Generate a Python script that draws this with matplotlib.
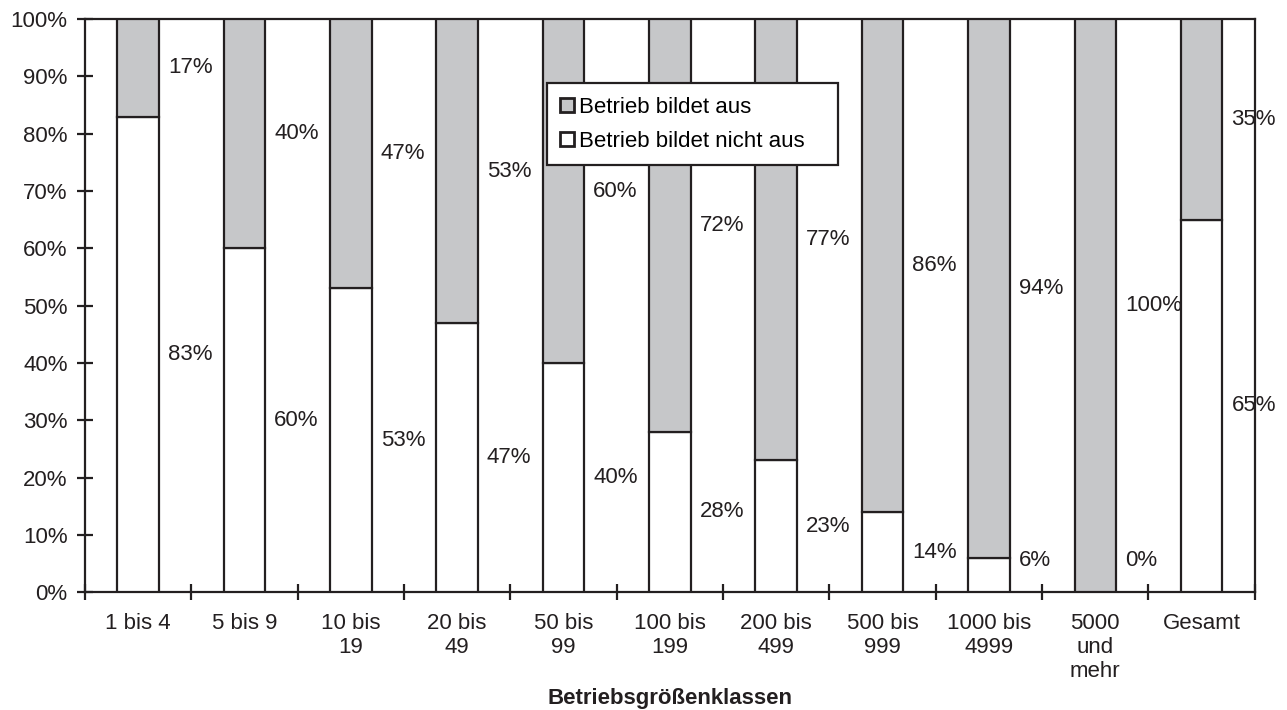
import matplotlib.pyplot as plt
from matplotlib.patches import Patch
import numpy as np

plt.rcParams['font.family'] = ['Liberation Sans', 'DejaVu Sans']

# Betriebsgrößenklassen und Anteile (in %)
kategorien = ['1 bis 4', '5 bis 9', '10 bis\n19', '20 bis\n49', '50 bis\n99',
              '100 bis\n199', '200 bis\n499', '500 bis\n999', '1000 bis\n4999',
              '5000\nund\nmehr', 'Gesamt']
bildet_nicht_aus = [83, 60, 53, 47, 40, 28, 23, 14, 6, 0, 65]
bildet_aus = [17, 40, 47, 53, 60, 72, 77, 86, 94, 100, 35]

GRAU = '#c6c7c9'
DUNKEL = '#231f20'
LW = 1.6
FS = 16

fig = plt.figure(figsize=(12.87, 7.10), dpi=100)
ax = fig.add_axes([0.066, 0.166, 0.909, 0.807])

x = np.arange(len(kategorien))
breite = 0.39
ax.bar(x, bildet_nicht_aus, breite, color='white', edgecolor=DUNKEL,
       linewidth=LW, zorder=3)
ax.bar(x, bildet_aus, breite, bottom=bildet_nicht_aus, color=GRAU,
       edgecolor=DUNKEL, linewidth=LW, zorder=3)

# Werte rechts neben den Säulen
for i, (w, g) in enumerate(zip(bildet_nicht_aus, bildet_aus)):
    y_w = max(w / 2, 5.5)
    y_g = w + g / 2
    ax.text(i + 0.28, y_w, f'{w}%', ha='left', va='center', fontsize=FS,
            color=DUNKEL, zorder=4)
    ax.text(i + 0.28, y_g, f'{g}%', ha='left', va='center', fontsize=FS,
            color=DUNKEL, zorder=4)

ax.set_xlim(-0.5, len(kategorien) - 0.5)
ax.set_ylim(0, 100)

ax.set_yticks(np.arange(0, 101, 10))
ax.set_yticklabels([f'{v}%' for v in range(0, 101, 10)])
ax.set_xticks(x)
ax.set_xticklabels(kategorien, linespacing=1.2)
ax.set_xticks(np.arange(-0.5, len(kategorien)), minor=True)

ax.tick_params(axis='y', direction='inout', length=11, width=LW,
               labelsize=FS, pad=7, colors=DUNKEL)
ax.tick_params(axis='x', which='major', length=0, labelsize=FS, pad=15,
               colors=DUNKEL)
ax.tick_params(axis='x', which='minor', direction='inout', length=11,
               width=LW, color=DUNKEL)

for s in ax.spines.values():
    s.set_linewidth(LW)
    s.set_color(DUNKEL)

ax.set_xlabel('Betriebsgrößenklassen', fontsize=FS, fontweight='bold',
              labelpad=4, color=DUNKEL)

handles = [Patch(facecolor=GRAU, edgecolor=DUNKEL, linewidth=2,
                 label='Betrieb bildet aus'),
           Patch(facecolor='white', edgecolor=DUNKEL, linewidth=2,
                 label='Betrieb bildet nicht aus')]
leg = ax.legend(handles=handles, loc='upper left', mode='expand',
                bbox_to_anchor=(0.395, 0.888, 0.249, 0), fontsize=FS,
                frameon=True, fancybox=False, edgecolor=DUNKEL, framealpha=1,
                handlelength=0.62, handleheight=0.62, handletextpad=0.2,
                borderpad=0.6, labelspacing=0.6, borderaxespad=0)
leg.get_frame().set_linewidth(LW)
leg.set_zorder(5)

fig.savefig('out.png', dpi=100)
